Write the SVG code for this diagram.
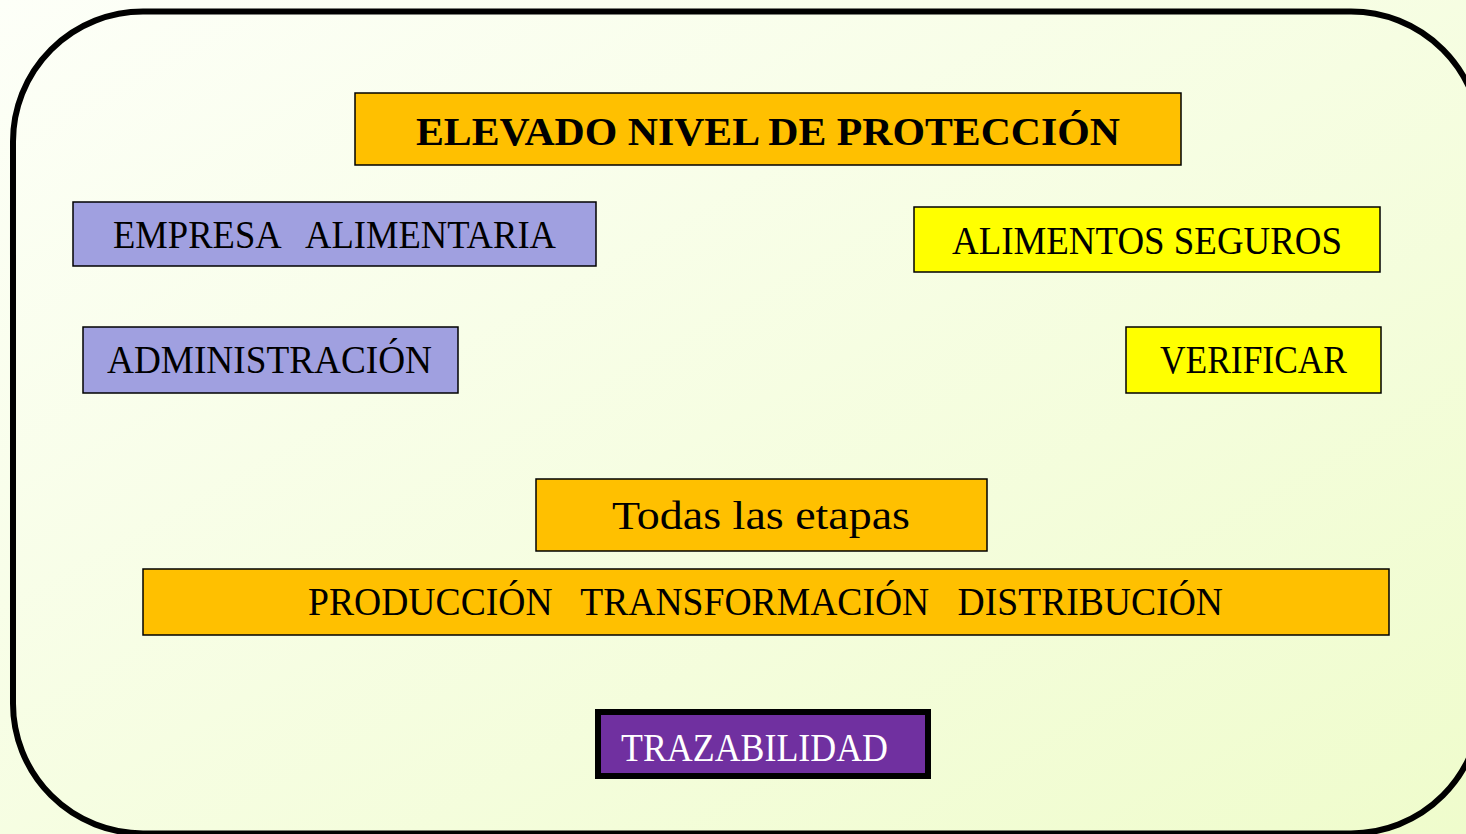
<svg xmlns="http://www.w3.org/2000/svg" width="1466" height="834" viewBox="0 0 1466 834">
  <defs>
    <linearGradient id="bg" x1="0" y1="0" x2="1" y2="1">
      <stop offset="0" stop-color="#fdfff8"/>
      <stop offset="1" stop-color="#effccc"/>
    </linearGradient>
  </defs>
  <style>
    .box { stroke: #000; stroke-width: 1.5; }
    .orange { fill: #ffc000; }
    .lav { fill: #a0a0e0; }
    .yel { fill: #ffff00; }
    .t { font-family: "Palatino Linotype", "Book Antiqua", "Liberation Serif", "DejaVu Serif", serif; fill: #000; font-size: 40px; }
  </style>
  <rect x="0" y="0" width="1466" height="834" fill="url(#bg)"/>
  <rect id="frame" x="13" y="11.5" width="1468" height="822" rx="130" ry="130" fill="none" stroke="#000" stroke-width="6"/>

  <g id="elevado">
    <rect class="box orange" x="355" y="93" width="826" height="72"/>
    <text class="t" x="416" y="145" font-size="46" font-weight="bold" textLength="704" lengthAdjust="spacingAndGlyphs">ELEVADO NIVEL DE PROTECCIÓN</text>
  </g>
  <g id="empresa">
    <rect class="box lav" x="73" y="202" width="523" height="64"/>
    <text class="t" x="113" y="248" textLength="443" lengthAdjust="spacingAndGlyphs" xml:space="preserve">EMPRESA   ALIMENTARIA</text>
  </g>
  <g id="administracion">
    <rect class="box lav" x="83" y="327" width="375" height="66"/>
    <text class="t" x="107" y="373" textLength="325" lengthAdjust="spacingAndGlyphs">ADMINISTRACIÓN</text>
  </g>
  <g id="alimentos">
    <rect class="box yel" x="914" y="207" width="466" height="65"/>
    <text class="t" x="952" y="254" textLength="390" lengthAdjust="spacingAndGlyphs">ALIMENTOS SEGUROS</text>
  </g>
  <g id="verificar">
    <rect class="box yel" x="1126" y="327" width="255" height="66"/>
    <text class="t" x="1160" y="373" textLength="187" lengthAdjust="spacingAndGlyphs">VERIFICAR</text>
  </g>
  <g id="todas">
    <rect class="box orange" x="536" y="479" width="451" height="72"/>
    <text class="t" x="612" y="529" font-size="48" textLength="298" lengthAdjust="spacingAndGlyphs">Todas las etapas</text>
  </g>
  <g id="etapas">
    <rect class="box orange" x="143" y="569" width="1246" height="66"/>
    <text class="t" x="308" y="615" textLength="915" lengthAdjust="spacingAndGlyphs" xml:space="preserve">PRODUCCIÓN   TRANSFORMACIÓN   DISTRIBUCIÓN</text>
  </g>
  <g id="trazabilidad">
    <rect x="598" y="712" width="330" height="64" fill="#7030a0" stroke="#000" stroke-width="6"/>
    <text x="621" y="761" font-family="'Liberation Serif', 'Times New Roman', serif" font-size="39" fill="#ffffff" textLength="267" lengthAdjust="spacingAndGlyphs">TRAZABILIDAD</text>
  </g>
  <g id="connectors"></g>
</svg>
